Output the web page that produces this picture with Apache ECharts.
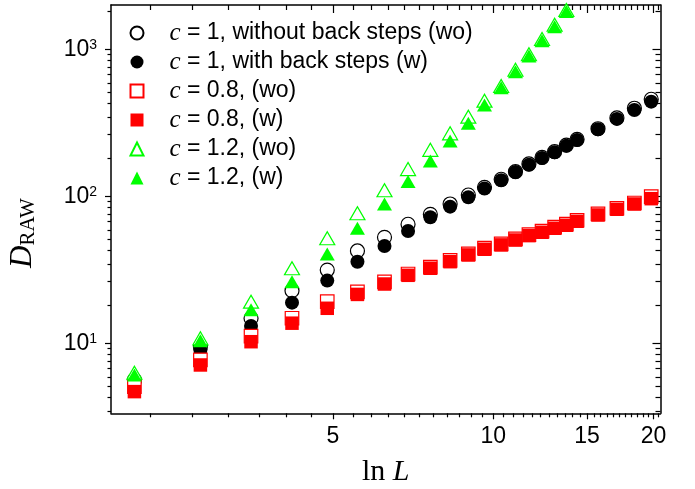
<!DOCTYPE html>
<html><head><meta charset="utf-8">
<script src="https://cdn.jsdelivr.net/npm/echarts@6/dist/echarts.min.js"></script>
<style>html,body{margin:0;padding:0;background:#fff}#c{width:695px;height:489px}</style>
</head><body><div id="c"></div>
<script>
// ---- data ----
const lnL = [2.12, 2.82, 3.51, 4.19, 4.88, 5.56, 6.25, 6.92, 7.62, 8.30, 8.98, 9.63, 10.35, 11.01, 11.67, 12.35, 13.04, 13.72, 14.37, 15.73, 17.07, 18.41, 19.80];
const c1_wo  = [5.63, 9.48, 14.8, 22.8, 31.5, 42.5, 52.6, 64.5, 75.4, 88.6, 102, 115, 130.5, 147, 166, 184, 201, 223, 244, 288, 341, 397, 457];
const c1_w   = [5.40, 9.00, 13.1, 18.9, 26.7, 35.9, 45.9, 58.1, 72.0, 85.0, 98.4, 113, 128.5, 146, 164, 182, 199, 221, 241.5, 286, 336, 386, 440];
const c08_wo = [5.07, 7.70, 11.2, 14.8, 19.2, 22.4, 26.2, 29.6, 33.0, 36.6, 40.6, 44.4, 47.5, 51.3, 54.9, 57.9, 61.6, 64.6, 68.7, 75.8, 82.9, 90.0, 99.4];
const c08_w  = [4.69, 7.12, 10.25, 13.7, 17.3, 21.5, 25.3, 29.0, 32.4, 35.9, 39.9, 43.6, 46.7, 50.4, 54.0, 56.9, 60.6, 63.5, 67.6, 74.6, 81.6, 88.6, 96.3];
const c12_wo = [6.31, 10.8, 19.2, 32.4, 51.8, 76.6, 110, 153, 207, 268, 348, 447, 563, 725, 925, 1175, 1470, 1850];
const c12_w  = [6.09, 10.4, 16.9, 26.2, 40.5, 60.6, 88.6, 126, 174, 238, 314, 418, 548, 704, 900, 1144, 1425, 1803];
const seriesNames = ['c = 1, without back steps (wo)', 'c = 1, with back steps (w)', 'c = 0.8, (wo)', 'c = 0.8, (w)', 'c = 1.2, (wo)', 'c = 1.2, (w)'];
const xMajorTicks = [5, 10, 15, 20];
const yMajorTicks = [10, 100, 1000];
const xMin = 1.916, xMax = 20.61, yMin = 3.34, yMax = 2000;

// minor ticks: ten per major interval
const xMinorTicks = [];
for (let m = 0; m <= 20; m += 5) for (let k = 1; k <= 10; k++) { const v = m + k * 5 / 11; if (v > xMin && v < xMax) xMinorTicks.push(v); }
const yMinorTicks = [];
for (const d of [1, 10, 100, 1000]) for (let k = 1; k <= 10; k++) { const v = d + k * 9 * d / 11; if (v > yMin && v < yMax) yMinorTicks.push(v); }

const BLACK = '#000';
function axisBase(kind, pos, ticks, len, inside, showLine) {
  return {
    type: 'log', logBase: 10, gridIndex: 0, position: pos,
    min: kind === 'x' ? xMin : yMin, max: kind === 'x' ? xMax : yMax,
    axisLine: { show: showLine, onZero: false, lineStyle: { color: BLACK, width: 1.5 } },
    axisTick: { show: true, inside: inside, length: len, customValues: ticks, lineStyle: { color: BLACK, width: 1.2 } },
    axisLabel: { show: false },
    splitLine: { show: false }, minorTick: { show: false }, minorSplitLine: { show: false },
    axisPointer: { show: false }, silent: true
  };
}
const xMain = axisBase('x', 'bottom', xMajorTicks, 6, false, true);
xMain.axisLabel = { show: true, customValues: xMajorTicks, margin: 12, color: BLACK, fontFamily: 'Liberation Sans', fontSize: 23,
  formatter: v => String(Math.round(v)) };
xMain.name = '{n|ln }{i|L}';
xMain.nameLocation = 'middle';
xMain.nameGap = 44;
xMain.nameTextStyle = { rich: {
  n: { fontFamily: 'Liberation Serif', fontSize: 30, lineHeight: 30, color: BLACK },
  i: { fontFamily: 'Liberation Serif', fontStyle: 'italic', fontSize: 30, lineHeight: 30, color: BLACK } } };

const yMain = axisBase('y', 'left', yMajorTicks, 6, false, true);
yMain.axisLabel = { show: true, customValues: yMajorTicks, margin: 14, color: BLACK,
  formatter: v => '{b|10}{s|' + Math.round(Math.log10(v)) + '}',
  rich: {
    b: { fontFamily: 'Liberation Sans', fontSize: 23, lineHeight: 23, padding: [5, 0, 5, 0], color: BLACK },
    s: { fontFamily: 'Liberation Sans', fontSize: 14, lineHeight: 14, verticalAlign: 'top', color: BLACK } } };
yMain.name = '{d|D}{s|RAW}';
yMain.nameLocation = 'middle';
yMain.nameGap = 55;
yMain.nameRotate = 90;
yMain.nameTextStyle = { rich: {
  d: { fontFamily: 'Liberation Serif', fontStyle: 'italic', fontSize: 31, lineHeight: 31, padding: [0, 0, 14, 0], verticalAlign: 'top', color: BLACK },
  s: { fontFamily: 'Liberation Serif', fontSize: 21, lineHeight: 21, verticalAlign: 'bottom', padding: [0, 48, 0, 0], color: BLACK } } };

const xAxes = [
  xMain,
  axisBase('x', 'bottom', xMinorTicks, 4, false, false),
  axisBase('x', 'top', xMajorTicks, 8, true, true),
  axisBase('x', 'top', xMinorTicks, 5, true, false)
];
const yAxes = [
  yMain,
  axisBase('y', 'left', yMinorTicks, 3.5, false, false),
  axisBase('y', 'right', yMajorTicks, 8, true, true),
  axisBase('y', 'right', yMinorTicks, 5, true, false)
];

function ser(name, ys, symbol, size, fill, stroke, bw) {
  return {
    name: name, type: 'scatter', xAxisIndex: 0, yAxisIndex: 0,
    data: ys.map((y, i) => [lnL[i], y]),
    symbol: symbol, symbolSize: size,
    itemStyle: { color: fill, borderColor: stroke, borderWidth: bw, opacity: 1 },
    emphasis: { disabled: true }, silent: true
  };
}

const option = {
  animation: false,
  backgroundColor: '#fff',
  grid: { left: 111, right: 34.5, top: 5, bottom: 75.7, containLabel: false, outerBoundsMode: 'none' },
  xAxis: xAxes,
  yAxis: yAxes,
  legend: {
    orient: 'vertical', left: 129.5, top: 20.5, padding: 0, itemWidth: 13, itemHeight: 13, itemGap: 4,
    selectedMode: false, data: seriesNames,
    formatter: name => '{c|c}{t|' + name.slice(1) + '}',
    textStyle: { color: BLACK, fontFamily: 'Liberation Sans', fontSize: 23, lineHeight: 23,
      rich: {
        c: { fontFamily: 'Liberation Serif', fontStyle: 'italic', fontSize: 25, lineHeight: 23, padding: [0, 0, 0, 21], color: BLACK },
        t: { fontFamily: 'Liberation Sans', fontSize: 23, lineHeight: 23, color: BLACK } } }
  },
  series: [
    ser(seriesNames[0], c1_wo, 'circle', 14, '#fff', '#000', 1.2),
    ser(seriesNames[1], c1_w, 'circle', 14, '#000', '#000', 0),
    ser(seriesNames[2], c08_wo, 'rect', 13.5, '#fff', '#ff0000', 1.2),
    ser(seriesNames[3], c08_w, 'rect', 13.5, '#ff0000', '#ff0000', 0),
    ser(seriesNames[4], c12_wo, 'triangle', [15, 13], '#fff', '#00ff00', 1.2),
    ser(seriesNames[5], c12_w, 'triangle', [15, 13], '#00ff00', '#00ff00', 0)
  ]
};
const chart = echarts.init(document.getElementById('c'), null, { renderer: 'canvas' });
chart.setOption(option);
</script></body></html>
